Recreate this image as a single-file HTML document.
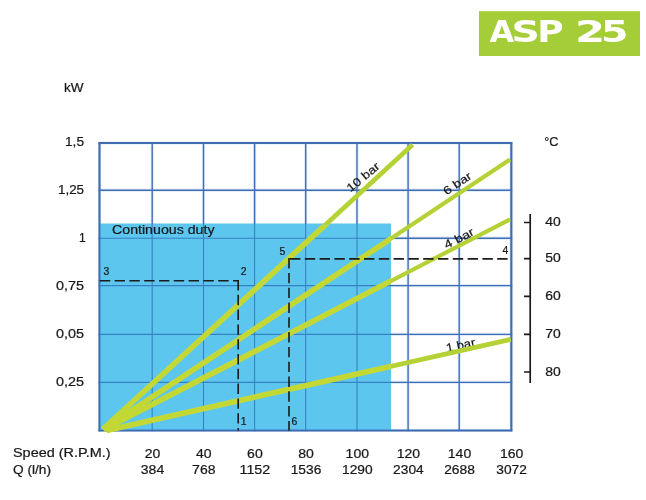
<!DOCTYPE html>
<html><head><meta charset="utf-8"><title>ASP 25</title>
<style>html,body{margin:0;padding:0;background:#fff}svg{display:block}text{font-family:"Liberation Sans",Arial,sans-serif;fill:#1a1a1a;stroke:#1a1a1a;stroke-width:0.22px}</style></head><body>
<svg width="646" height="500" viewBox="0 0 646 500">
<defs><filter id="soft" x="0" y="0" width="646" height="500" filterUnits="userSpaceOnUse"><feGaussianBlur stdDeviation="0.45"/></filter></defs>
<rect width="646" height="500" fill="#fff"/>
<g filter="url(#soft)">
<rect x="479" y="11.2" width="161" height="44.8" fill="#a5cd39"/>
<text y="41.8" font-size="30.9" font-weight="bold" style="fill:#fff;stroke:none;font-family:'DejaVu Sans','Liberation Sans',sans-serif"><tspan x="489.4" textLength="24.8" lengthAdjust="spacingAndGlyphs">A</tspan><tspan x="511.5" textLength="28.4" lengthAdjust="spacingAndGlyphs">S</tspan><tspan x="537.2" textLength="26.3" lengthAdjust="spacingAndGlyphs">P</tspan> <tspan x="574.9" textLength="30.1" lengthAdjust="spacingAndGlyphs">2</tspan><tspan x="601" textLength="27.5" lengthAdjust="spacingAndGlyphs">5</tspan></text>
<line x1="99.5" y1="142" x2="99.5" y2="431.5" stroke="#dceaf9" stroke-width="3.2"/>
<line x1="152.2" y1="142" x2="152.2" y2="431.5" stroke="#dceaf9" stroke-width="3.2"/>
<line x1="203.5" y1="142" x2="203.5" y2="431.5" stroke="#dceaf9" stroke-width="3.2"/>
<line x1="254.6" y1="142" x2="254.6" y2="431.5" stroke="#dceaf9" stroke-width="3.2"/>
<line x1="305.7" y1="142" x2="305.7" y2="431.5" stroke="#dceaf9" stroke-width="3.2"/>
<line x1="357.0" y1="142" x2="357.0" y2="431.5" stroke="#dceaf9" stroke-width="3.2"/>
<line x1="408.1" y1="142" x2="408.1" y2="431.5" stroke="#dceaf9" stroke-width="3.2"/>
<line x1="459.2" y1="142" x2="459.2" y2="431.5" stroke="#dceaf9" stroke-width="3.2"/>
<line x1="511.3" y1="142" x2="511.3" y2="431.5" stroke="#dceaf9" stroke-width="3.2"/>
<line x1="98.5" y1="143.0" x2="512.3" y2="143.0" stroke="#dceaf9" stroke-width="3.2"/>
<line x1="98.5" y1="190.2" x2="512.3" y2="190.2" stroke="#dceaf9" stroke-width="3.2"/>
<line x1="98.5" y1="238.2" x2="512.3" y2="238.2" stroke="#dceaf9" stroke-width="3.2"/>
<line x1="98.5" y1="285.6" x2="512.3" y2="285.6" stroke="#dceaf9" stroke-width="3.2"/>
<line x1="98.5" y1="334.4" x2="512.3" y2="334.4" stroke="#dceaf9" stroke-width="3.2"/>
<line x1="98.5" y1="382.4" x2="512.3" y2="382.4" stroke="#dceaf9" stroke-width="3.2"/>
<line x1="98.5" y1="430.5" x2="512.3" y2="430.5" stroke="#dceaf9" stroke-width="3.2"/>
<rect x="99.5" y="223.5" width="291.5" height="207.0" fill="#5cc6ef"/>
<clipPath id="cw"><path d="M0 0H646V500H0Z M100.6 224.5H391V429.4H100.6Z" clip-rule="evenodd"/></clipPath>
<clipPath id="cb2"><rect x="98" y="224.5" width="293" height="210"/></clipPath>
<clipPath id="cb"><rect x="100.6" y="224.5" width="290.4" height="204.9"/></clipPath>
<g stroke="#3f6db2" clip-path="url(#cw)">
<line x1="99.5" y1="142.2" x2="99.5" y2="431.3" stroke-width="2.10"/>
<line x1="152.2" y1="142.2" x2="152.2" y2="431.3" stroke-width="1.35"/>
<line x1="203.5" y1="142.2" x2="203.5" y2="431.3" stroke-width="1.35"/>
<line x1="254.6" y1="142.2" x2="254.6" y2="431.3" stroke-width="1.35"/>
<line x1="305.7" y1="142.2" x2="305.7" y2="431.3" stroke-width="1.35"/>
<line x1="357.0" y1="142.2" x2="357.0" y2="431.3" stroke-width="1.35"/>
<line x1="408.1" y1="142.2" x2="408.1" y2="431.3" stroke-width="1.35"/>
<line x1="459.2" y1="142.2" x2="459.2" y2="431.3" stroke-width="1.35"/>
<line x1="511.3" y1="142.2" x2="511.3" y2="431.3" stroke-width="2.10"/>
<line x1="98.5" y1="143.0" x2="512.3" y2="143.0" stroke-width="2.00"/>
<line x1="98.5" y1="190.2" x2="512.3" y2="190.2" stroke-width="1.35"/>
<line x1="98.5" y1="238.2" x2="512.3" y2="238.2" stroke-width="1.35"/>
<line x1="98.5" y1="285.6" x2="512.3" y2="285.6" stroke-width="1.35"/>
<line x1="98.5" y1="334.4" x2="512.3" y2="334.4" stroke-width="1.35"/>
<line x1="98.5" y1="382.4" x2="512.3" y2="382.4" stroke-width="1.35"/>
<line x1="98.5" y1="430.5" x2="512.3" y2="430.5" stroke-width="2.00"/>
</g>
<g stroke="#3681c2" clip-path="url(#cb)">
<line x1="99.5" y1="142.2" x2="99.5" y2="431.3" stroke-width="2.10"/>
<line x1="152.2" y1="142.2" x2="152.2" y2="431.3" stroke-width="1.08"/>
<line x1="203.5" y1="142.2" x2="203.5" y2="431.3" stroke-width="1.08"/>
<line x1="254.6" y1="142.2" x2="254.6" y2="431.3" stroke-width="1.08"/>
<line x1="305.7" y1="142.2" x2="305.7" y2="431.3" stroke-width="1.08"/>
<line x1="357.0" y1="142.2" x2="357.0" y2="431.3" stroke-width="1.08"/>
<line x1="408.1" y1="142.2" x2="408.1" y2="431.3" stroke-width="1.08"/>
<line x1="459.2" y1="142.2" x2="459.2" y2="431.3" stroke-width="1.08"/>
<line x1="511.3" y1="142.2" x2="511.3" y2="431.3" stroke-width="2.10"/>
<line x1="98.5" y1="143.0" x2="512.3" y2="143.0" stroke-width="2.00"/>
<line x1="98.5" y1="190.2" x2="512.3" y2="190.2" stroke-width="1.08"/>
<line x1="98.5" y1="238.2" x2="512.3" y2="238.2" stroke-width="1.08"/>
<line x1="98.5" y1="285.6" x2="512.3" y2="285.6" stroke-width="1.08"/>
<line x1="98.5" y1="334.4" x2="512.3" y2="334.4" stroke-width="1.08"/>
<line x1="98.5" y1="382.4" x2="512.3" y2="382.4" stroke-width="1.08"/>
<line x1="98.5" y1="430.5" x2="512.3" y2="430.5" stroke-width="2.00"/>
</g>
<text x="64.0" y="91.6" font-size="12" textLength="19.5" lengthAdjust="spacingAndGlyphs">kW</text>
<text x="65.0" y="146.0" font-size="12" textLength="19.0" lengthAdjust="spacingAndGlyphs">1,5</text>
<text x="58.0" y="193.5" font-size="12" textLength="26.0" lengthAdjust="spacingAndGlyphs">1,25</text>
<text x="79.0" y="241.5" font-size="12">1</text>
<text x="56.0" y="290.1" font-size="12" textLength="28.0" lengthAdjust="spacingAndGlyphs">0,75</text>
<text x="56.0" y="338.4" font-size="12" textLength="28.0" lengthAdjust="spacingAndGlyphs">0,05</text>
<text x="56.0" y="386.1" font-size="12" textLength="28.0" lengthAdjust="spacingAndGlyphs">0,25</text>
<text x="112.0" y="234.0" font-size="12" textLength="102.5" lengthAdjust="spacingAndGlyphs">Continuous duty</text>
<text transform="translate(350.5 192.5) rotate(-39.5)" font-size="11.5" textLength="39.0" lengthAdjust="spacingAndGlyphs" style="stroke-width:0.2px">10 bar</text>
<text transform="translate(446.5 195.5) rotate(-34.0)" font-size="11.5" textLength="31.5" lengthAdjust="spacingAndGlyphs" style="stroke-width:0.2px">6 bar</text>
<text transform="translate(446.5 249.0) rotate(-27.0)" font-size="11.5" textLength="32.0" lengthAdjust="spacingAndGlyphs" style="stroke-width:0.2px">4 bar</text>
<text transform="translate(447.0 352.0) rotate(-12.0)" font-size="11.5" textLength="29.5" lengthAdjust="spacingAndGlyphs" style="stroke-width:0.2px">1 bar</text>
<g clip-path="url(#cw)" stroke="#b4d235">
<line x1="102.8" y1="429.2" x2="412.6" y2="144.8" stroke-width="4.7"/>
<line x1="103.4" y1="429.3" x2="510.0" y2="159.6" stroke-width="4.2"/>
<line x1="103.8" y1="429.5" x2="510.0" y2="219.4" stroke-width="4.1"/>
<line x1="106.5" y1="430.4" x2="510.8" y2="339.4" stroke-width="4.8"/>
</g>
<g clip-path="url(#cb2)" stroke="#c3d836">
<line x1="102.8" y1="429.2" x2="412.6" y2="144.8" stroke-width="5.6"/>
<line x1="103.4" y1="429.3" x2="510.0" y2="159.6" stroke-width="5.6"/>
<line x1="103.8" y1="429.5" x2="510.0" y2="219.4" stroke-width="5.6"/>
<line x1="106.5" y1="430.4" x2="510.8" y2="339.4" stroke-width="5.6"/>
</g>
<path d="M99.8 280.8 H238.2" stroke="#1a1a1a" stroke-width="1.6" fill="none" stroke-dasharray="10.4 4.4"/>
<path d="M238.2 280 V430.5" stroke="#1a1a1a" stroke-width="1.6" fill="none" stroke-dasharray="10.4 4.4"/>
<path d="M290 258.9 H512" stroke="#1a1a1a" stroke-width="1.6" fill="none" stroke-dasharray="10.4 4.4"/>
<path d="M289 258.1 V430.5" stroke="#1a1a1a" stroke-width="1.6" fill="none" stroke-dasharray="10.4 4.4"/>
<text x="103.4" y="275.4" font-size="10.4">3</text>
<text x="240.8" y="275.4" font-size="10.4">2</text>
<text x="279.6" y="254.7" font-size="10.4">5</text>
<text x="502.4" y="253.8" font-size="10.4">4</text>
<text x="240.8" y="425.1" font-size="10.4">1</text>
<text x="291.6" y="425.1" font-size="10.4">6</text>
<path d="M530.2 214 V383 M524 222.5 H530.2 M524 258.6 H530.2 M524 296.4 H530.2 M524 334.4 H530.2 M524 372 H530.2" stroke="#1a1a1a" stroke-width="1.7" fill="none"/>
<text x="544.2" y="146.0" font-size="13" textLength="14.2" lengthAdjust="spacingAndGlyphs">°C</text>
<text x="545.3" y="225.8" font-size="12" textLength="15.5" lengthAdjust="spacingAndGlyphs">40</text>
<text x="545.3" y="262.4" font-size="12" textLength="15.5" lengthAdjust="spacingAndGlyphs">50</text>
<text x="545.3" y="300.0" font-size="12" textLength="15.5" lengthAdjust="spacingAndGlyphs">60</text>
<text x="545.3" y="338.0" font-size="12" textLength="15.5" lengthAdjust="spacingAndGlyphs">70</text>
<text x="545.3" y="376.0" font-size="12" textLength="15.5" lengthAdjust="spacingAndGlyphs">80</text>
<text x="13.0" y="457.0" font-size="12" textLength="97.5" lengthAdjust="spacingAndGlyphs">Speed (R.P.M.)</text>
<text x="13.0" y="473.8" font-size="12" textLength="38.0" lengthAdjust="spacingAndGlyphs">Q (l/h)</text>
<text x="152.5" y="457.5" font-size="12" text-anchor="middle" textLength="15.6" lengthAdjust="spacingAndGlyphs">20</text>
<text x="152.5" y="474.3" font-size="12" text-anchor="middle" textLength="23.4" lengthAdjust="spacingAndGlyphs">384</text>
<text x="203.8" y="457.5" font-size="12" text-anchor="middle" textLength="15.6" lengthAdjust="spacingAndGlyphs">40</text>
<text x="203.8" y="474.3" font-size="12" text-anchor="middle" textLength="23.4" lengthAdjust="spacingAndGlyphs">768</text>
<text x="254.9" y="457.5" font-size="12" text-anchor="middle" textLength="15.6" lengthAdjust="spacingAndGlyphs">60</text>
<text x="254.9" y="474.3" font-size="12" text-anchor="middle" textLength="30.6" lengthAdjust="spacingAndGlyphs">1152</text>
<text x="306.0" y="457.5" font-size="12" text-anchor="middle" textLength="15.6" lengthAdjust="spacingAndGlyphs">80</text>
<text x="306.0" y="474.3" font-size="12" text-anchor="middle" textLength="30.6" lengthAdjust="spacingAndGlyphs">1536</text>
<text x="357.3" y="457.5" font-size="12" text-anchor="middle" textLength="23.4" lengthAdjust="spacingAndGlyphs">100</text>
<text x="357.3" y="474.3" font-size="12" text-anchor="middle" textLength="30.6" lengthAdjust="spacingAndGlyphs">1290</text>
<text x="408.4" y="457.5" font-size="12" text-anchor="middle" textLength="23.4" lengthAdjust="spacingAndGlyphs">120</text>
<text x="408.4" y="474.3" font-size="12" text-anchor="middle" textLength="30.6" lengthAdjust="spacingAndGlyphs">2304</text>
<text x="459.5" y="457.5" font-size="12" text-anchor="middle" textLength="23.4" lengthAdjust="spacingAndGlyphs">140</text>
<text x="459.5" y="474.3" font-size="12" text-anchor="middle" textLength="30.6" lengthAdjust="spacingAndGlyphs">2688</text>
<text x="511.6" y="457.5" font-size="12" text-anchor="middle" textLength="23.4" lengthAdjust="spacingAndGlyphs">160</text>
<text x="511.6" y="474.3" font-size="12" text-anchor="middle" textLength="30.6" lengthAdjust="spacingAndGlyphs">3072</text>
</g></svg></body></html>
